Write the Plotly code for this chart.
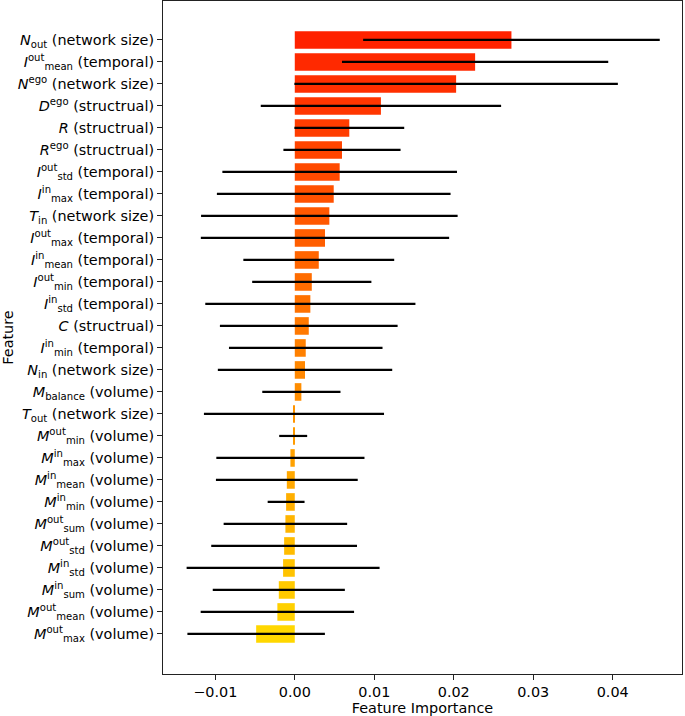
import numpy as np
import plotly.graph_objects as go

# Features listed top to bottom
features = [
    "<i>N</i><sub>out</sub> (network size)",
    "<i>I</i><sup>out</sup><sub>mean</sub> (temporal)",
    "<i>N</i><sup>ego</sup> (network size)",
    "<i>D</i><sup>ego</sup> (structrual)",
    "<i>R</i> (structrual)",
    "<i>R</i><sup>ego</sup> (structrual)",
    "<i>I</i><sup>out</sup><sub>std</sub> (temporal)",
    "<i>I</i><sup>in</sup><sub>max</sub> (temporal)",
    "<i>T</i><sub>in</sub> (network size)",
    "<i>I</i><sup>out</sup><sub>max</sub> (temporal)",
    "<i>I</i><sup>in</sup><sub>mean</sub> (temporal)",
    "<i>I</i><sup>out</sup><sub>min</sub> (temporal)",
    "<i>I</i><sup>in</sup><sub>std</sub> (temporal)",
    "<i>C</i> (structrual)",
    "<i>I</i><sup>in</sup><sub>min</sub> (temporal)",
    "<i>N</i><sub>in</sub> (network size)",
    "<i>M</i><sub>balance</sub> (volume)",
    "<i>T</i><sub>out</sub> (network size)",
    "<i>M</i><sup>out</sup><sub>min</sub> (volume)",
    "<i>M</i><sup>in</sup><sub>max</sub> (volume)",
    "<i>M</i><sup>in</sup><sub>mean</sub> (volume)",
    "<i>M</i><sup>in</sup><sub>min</sub> (volume)",
    "<i>M</i><sup>out</sup><sub>sum</sub> (volume)",
    "<i>M</i><sup>out</sup><sub>std</sub> (volume)",
    "<i>M</i><sup>in</sup><sub>std</sub> (volume)",
    "<i>M</i><sup>in</sup><sub>sum</sub> (volume)",
    "<i>M</i><sup>out</sup><sub>mean</sub> (volume)",
    "<i>M</i><sup>out</sup><sub>max</sub> (volume)",
]

importance = [
    0.02726, 0.02269, 0.02030, 0.01084, 0.00686, 0.00594, 0.00565, 0.00490,
    0.00435, 0.00380, 0.00302, 0.00214, 0.00196, 0.00176, 0.00138, 0.00129,
    0.00083, -0.00010, -0.00020, -0.00055, -0.00100, -0.00109, -0.00118,
    -0.00134, -0.00147, -0.00201, -0.00219, -0.00486,
]

importance_std = [
    0.01866, 0.01675, 0.02035, 0.01512, 0.00691, 0.00737, 0.01476, 0.01470,
    0.01614, 0.01562, 0.00949, 0.00750, 0.01322, 0.01118, 0.00966, 0.01097,
    0.00492, 0.01133, 0.00176, 0.00932, 0.00892, 0.00232, 0.00777, 0.00917,
    0.01214, 0.00831, 0.00965, 0.00865,
]

x_tick_values = [-0.01, 0.0, 0.01, 0.02, 0.03, 0.04]
x_tick_labels = ["\u22120.01", "0.00", "0.01", "0.02", "0.03", "0.04"]

n = len(features)
ypos = np.arange(n)[::-1]  # first feature at top
rank = np.arange(n)

FONT = "DejaVu Sans"
FS = 14.4

fig = go.Figure(
    go.Bar(
        x=importance,
        y=ypos,
        orientation="h",
        width=0.8,
        marker=dict(
            color=rank,
            colorscale=[[0, "rgb(255,34,0)"], [1, "rgb(255,215,0)"]],
            line=dict(width=0),
        ),
        error_x=dict(
            type="data",
            array=importance_std,
            color="black",
            thickness=2.2,
            width=0,
        ),
        showlegend=False,
    )
)

fig.update_layout(
    width=685,
    height=716,
    margin=dict(l=163, r=3, t=1, b=42, autoexpand=False),
    paper_bgcolor="white",
    plot_bgcolor="white",
    font=dict(family=FONT, size=FS, color="black"),
)

fig.update_xaxes(
    range=[-0.01658, 0.04872],
    tickvals=x_tick_values,
    ticktext=x_tick_labels,
    ticks="outside",
    ticklen=5,
    tickwidth=1,
    tickcolor="#222",
    showline=True,
    linecolor="#222",
    linewidth=1.2,
    mirror=True,
    showgrid=False,
    zeroline=False,
    automargin=False,
    title=dict(text="Feature Importance", standoff=2, font=dict(size=FS)),
)

fig.update_yaxes(
    range=[-1.82, 28.77],
    tickvals=ypos,
    ticktext=features,
    ticks="outside",
    ticklen=5,
    tickwidth=1,
    tickcolor="#222",
    showline=True,
    linecolor="#222",
    linewidth=1.2,
    mirror=True,
    showgrid=False,
    zeroline=False,
    automargin=False,
    title=dict(text="Feature", standoff=4, font=dict(size=FS)),
)

fig.write_html(
    "out.html",
    config={"displayModeBar": False},
    post_script="document.body.style.margin='0';document.body.style.padding='0';",
)
